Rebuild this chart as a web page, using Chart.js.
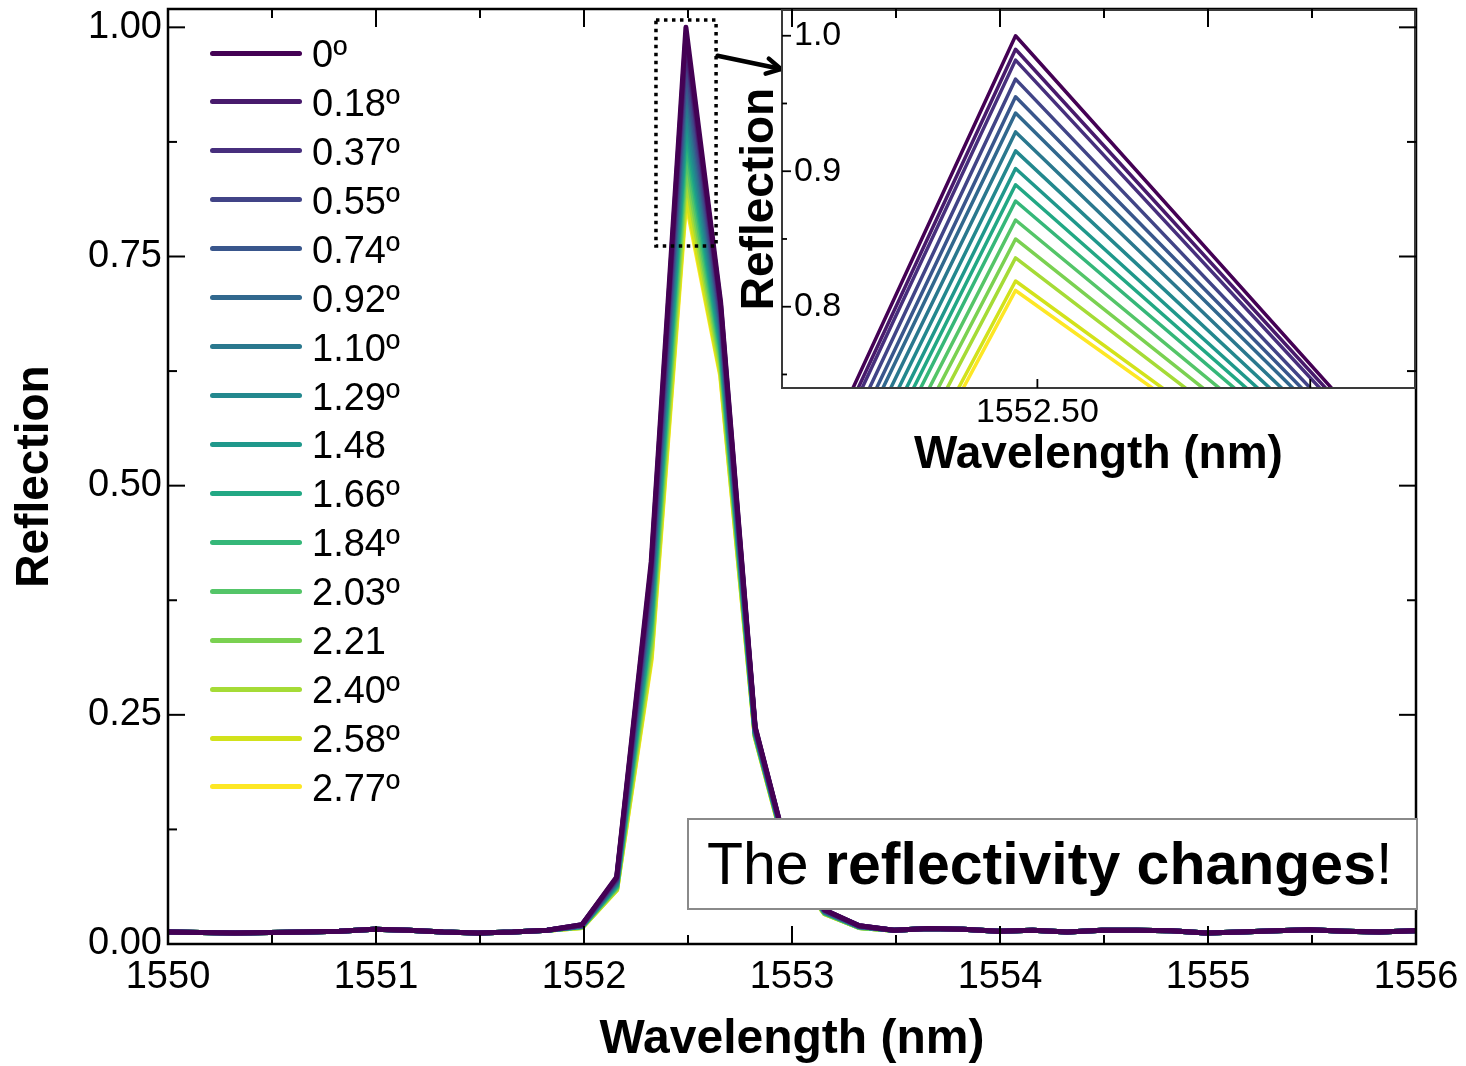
<!DOCTYPE html>
<html><head><meta charset="utf-8">
<script src="https://cdn.jsdelivr.net/npm/chart.js@4.4.1/dist/chart.umd.min.js"></script>
<style>
html,body{margin:0;padding:0;background:#fff;}
#wrap{position:relative;width:1466px;height:1066px;overflow:hidden;font-family:"Liberation Sans",Arial,sans-serif;}
#main{position:absolute;left:0;top:0;}
#inset{position:absolute;left:735px;top:0;}
.leg-line{position:absolute;height:5px;border-radius:2.5px;}
.leg-text{position:absolute;font-size:38px;line-height:38px;color:#000;white-space:nowrap;}
#note{position:absolute;left:687px;top:818px;width:709px;height:88px;border:2px solid #8a8a8a;background:#fff;
  font-size:59px;line-height:88px;color:#000;padding-left:18px;box-sizing:content-box;white-space:nowrap;}
</style></head>
<body><div id="wrap">
<canvas id="main" width="1466" height="1066"></canvas>
<canvas id="inset" width="731" height="490"></canvas>
<div id="legend"></div>
<div id="note">The <b>reflectivity changes</b>!</div>
</div>
<script>
// ---------------- data ----------------
const wavelengths = [1549.99,1550.157,1550.323,1550.49,1550.657,1550.823,1550.99,1551.157,1551.323,1551.49,
  1551.657,1551.823,1551.99,1552.157,1552.323,1552.49,1552.657,1552.823,1552.99,1553.157,
  1553.323,1553.49,1553.657,1553.823,1553.99,1554.157,1554.323,1554.49,1554.657,1554.823,
  1554.99,1555.157,1555.323,1555.49,1555.657,1555.823,1555.99,1556.157];
const angleLabels = ['0º','0.18º','0.37º','0.55º','0.74º','0.92º','1.10º','1.29º','1.48','1.66º','1.84º','2.03º','2.21','2.40º','2.58º','2.77º'];
const seriesColors = ['#440154','#481a6c','#472f7d','#414487','#39568c','#31688e','#2a788e','#23888e',
  '#1f988b','#22a884','#35b779','#54c568','#7ad151','#a5db36','#d2e21b','#fde725'];
// off-resonance baseline (all angles overlap there)
const baselineLeft  = [0.013,0.0125,0.012,0.0125,0.013,0.014,0.016,0.015,0.013,0.012,0.013,0.015];
const baselineRight = [0.015,0.017,0.016,0.014,0.015,0.013,0.015,0.015,0.0145,0.012,0.013,0.0145,0.0155,0.014,0.013,0.0145,0.0145];
// resonance window 1551.99 ... 1553.323 nm, one array per angle
const peak_0_00 = [0.021,0.073,0.417,1.000,0.700,0.237,0.090,0.037,0.020];
const peak_0_18 = [0.021,0.072,0.411,0.990,0.696,0.236,0.090,0.037,0.020];
const peak_0_37 = [0.021,0.071,0.407,0.982,0.692,0.235,0.089,0.037,0.020];
const peak_0_55 = [0.020,0.070,0.399,0.968,0.686,0.235,0.089,0.036,0.020];
const peak_0_74 = [0.020,0.069,0.391,0.955,0.681,0.234,0.088,0.036,0.019];
const peak_0_92 = [0.020,0.068,0.385,0.943,0.676,0.233,0.088,0.036,0.019];
const peak_1_10 = [0.020,0.067,0.377,0.929,0.670,0.232,0.088,0.035,0.019];
const peak_1_29 = [0.020,0.066,0.369,0.915,0.664,0.231,0.087,0.035,0.019];
const peak_1_48 = [0.019,0.065,0.361,0.902,0.658,0.230,0.087,0.035,0.019];
const peak_1_66 = [0.019,0.064,0.354,0.890,0.653,0.230,0.086,0.035,0.019];
const peak_1_84 = [0.019,0.063,0.348,0.878,0.648,0.229,0.086,0.034,0.019];
const peak_2_03 = [0.019,0.062,0.340,0.864,0.642,0.228,0.086,0.034,0.018];
const peak_2_21 = [0.019,0.061,0.332,0.850,0.636,0.228,0.085,0.034,0.018];
const peak_2_40 = [0.018,0.060,0.324,0.836,0.630,0.227,0.085,0.033,0.018];
const peak_2_58 = [0.018,0.059,0.314,0.819,0.623,0.226,0.084,0.033,0.018];
const peak_2_77 = [0.018,0.059,0.310,0.812,0.620,0.226,0.084,0.033,0.018];
const peakWindows = [peak_0_00,peak_0_18,peak_0_37,peak_0_55,peak_0_74,peak_0_92,peak_1_10,peak_1_29,
  peak_1_48,peak_1_66,peak_1_84,peak_2_03,peak_2_21,peak_2_40,peak_2_58,peak_2_77];

// tick values
const mainXMajor = [1550,1551,1552,1553,1554,1555,1556];
const mainXMinor = [1550.5,1551.5,1552.5,1553.5,1554.5,1555.5];
const mainYMajor = [0,0.25,0.5,0.75,1.0];
const mainYMinor = [0.125,0.375,0.625,0.875];
const insetXMajor = [1552.5];
const insetXMinor = [1552.625];
const insetYMajor = [0.8,0.9,1.0];
const insetYMinor = [0.75,0.85,0.95];
// zoom window (dotted box) and arrow, in data units
const zoomBox = {x0:1552.346, x1:1552.635, y0:0.7614, y1:1.008};
const arrowFrom = {x:1552.642, y:0.969};
const arrowTo = {x:1552.947, y:0.9545};

const FONT = '"Liberation Sans", Arial, sans-serif';

function seriesData(k){
  const vals = [...baselineLeft, ...peakWindows[k], ...baselineRight];
  return wavelengths.map((w,i)=>({x:w,y:vals[i]}));
}
function makeDatasets(width){
  return angleLabels.map((lab,k)=>({label:lab,data:seriesData(k),borderColor:seriesColors[k],
    backgroundColor:seriesColors[k],borderWidth:width,pointRadius:0,tension:0,fill:false,
    borderJoinStyle:'round',borderCapStyle:'round'}));
}
function noPadX(s,h){ s.height=h; s.paddingLeft=0; s.paddingRight=0; s.paddingTop=0; s.paddingBottom=0; }
function noPadY(s,w){ s.width=w; s.paddingLeft=0; s.paddingRight=0; s.paddingTop=0; s.paddingBottom=0; }

// ---------------- main chart ----------------
const framePlugin = {
  id:'frame',
  afterDatasetsDraw(chart){
    const {ctx, chartArea:a, scales:{x,y}} = chart;
    ctx.save();
    ctx.strokeStyle='#000'; ctx.lineWidth=2.5; ctx.lineCap='butt';
    ctx.strokeRect(a.left, a.top, a.right-a.left, a.bottom-a.top);
    ctx.lineWidth=2;
    const tick=(x1,y1,x2,y2)=>{ctx.beginPath();ctx.moveTo(x1,y1);ctx.lineTo(x2,y2);ctx.stroke();};
    mainXMajor.forEach(v=>{const px=x.getPixelForValue(v); tick(px,a.bottom,px,a.bottom-18); tick(px,a.top,px,a.top+18);});
    mainXMinor.forEach(v=>{const px=x.getPixelForValue(v); tick(px,a.bottom,px,a.bottom-9); tick(px,a.top,px,a.top+9);});
    mainYMajor.forEach(v=>{const py=y.getPixelForValue(v); tick(a.left,py,a.left+17,py); tick(a.right,py,a.right-17,py);});
    mainYMinor.forEach(v=>{const py=y.getPixelForValue(v); tick(a.left,py,a.left+9,py); tick(a.right,py,a.right-9,py);});
    // dotted zoom box
    const bx0=x.getPixelForValue(zoomBox.x0), bx1=x.getPixelForValue(zoomBox.x1);
    const by0=y.getPixelForValue(zoomBox.y1), by1=y.getPixelForValue(zoomBox.y0);
    ctx.setLineDash([3.5,4.5]); ctx.lineWidth=3.5;
    ctx.strokeRect(bx0,by0,bx1-bx0,by1-by0);
    ctx.setLineDash([]);
    // arrow
    const ax0=x.getPixelForValue(arrowFrom.x), ay0=y.getPixelForValue(arrowFrom.y);
    const ax1=x.getPixelForValue(arrowTo.x), ay1=y.getPixelForValue(arrowTo.y);
    ctx.lineWidth=4.5; ctx.lineCap='round';
    tick(ax0,ay0,ax1,ay1);
    const ang=Math.atan2(ay1-ay0,ax1-ax0), hl=16;
    ctx.beginPath();
    ctx.moveTo(ax1-hl*Math.cos(ang-0.5),ay1-hl*Math.sin(ang-0.5));
    ctx.lineTo(ax1,ay1);
    ctx.lineTo(ax1-hl*Math.cos(ang+0.5),ay1-hl*Math.sin(ang+0.5));
    ctx.stroke();
    ctx.restore();
  }
};

const mainChart = new Chart(document.getElementById('main'), {
  type:'line',
  data:{datasets:makeDatasets(5)},
  options:{
    responsive:false, animation:false, devicePixelRatio:1,
    layout:{padding:{top:9,right:50,left:0,bottom:0}},
    plugins:{legend:{display:false},tooltip:{enabled:false}},
    scales:{
      x:{type:'linear',min:1550,max:1556,
        afterBuildTicks:s=>{s.ticks=mainXMajor.map(v=>({value:v}));},
        afterFit:s=>noPadX(s,122),
        grid:{display:false,drawTicks:false}, border:{display:false},
        ticks:{padding:11,color:'#000',font:{size:38,family:FONT},maxRotation:0,autoSkip:false,callback:v=>String(v)},
        title:{display:true,text:'Wavelength (nm)',color:'#000',font:{size:48,weight:'bold',family:FONT,lineHeight:1},padding:{top:0,bottom:2}}
      },
      y:{type:'linear',min:0,max:1.02,
        afterBuildTicks:s=>{s.ticks=mainYMajor.map(v=>({value:v}));},
        afterFit:s=>noPadY(s,168),
        grid:{display:false,drawTicks:false}, border:{display:false},
        ticks:{padding:6,color:'#000',font:{size:38,family:FONT},callback:v=>Number(v).toFixed(2)},
        title:{display:true,text:'Reflection',color:'#000',font:{size:46,weight:'bold',family:FONT,lineHeight:1},padding:{top:12,bottom:0}}
      }
    }
  },
  plugins:[framePlugin]
});

// ---------------- inset ----------------
const INSET_LEFT = 735, INSET_TOP = 0;
const insetPlugin = {
  id:'insetFrame',
  beforeDraw(chart){
    const {ctx, chartArea:a} = chart;
    ctx.save(); ctx.fillStyle='#fff'; ctx.fillRect(a.left,a.top,a.right-a.left,a.bottom-a.top); ctx.restore();
  },
  afterDatasetsDraw(chart){
    const {ctx, chartArea:a, scales:{x,y}} = chart;
    ctx.save();
    const tick=(x1,y1,x2,y2)=>{ctx.beginPath();ctx.moveTo(x1,y1);ctx.lineTo(x2,y2);ctx.stroke();};
    ctx.strokeStyle='#3a3a3a'; ctx.lineWidth=2;
    ctx.strokeRect(a.left,a.top,a.right-a.left,a.bottom-a.top);
    ctx.strokeStyle='#000'; ctx.lineWidth=1.8;
    insetYMajor.forEach(v=>{const py=y.getPixelForValue(v); tick(a.left,py,a.left+9,py);});
    insetYMinor.forEach(v=>{const py=y.getPixelForValue(v); tick(a.left,py,a.left+5,py);});
    insetXMajor.forEach(v=>{const px=x.getPixelForValue(v); tick(px,a.bottom,px,a.bottom-9);});
    insetXMinor.forEach(v=>{const px=x.getPixelForValue(v); tick(px,a.bottom,px,a.bottom-9);});
    // main chart's mirrored top/right ticks remain visible over the inset
    const m = mainChart, ma = m.chartArea, mx = m.scales.x, my = m.scales.y;
    ctx.lineWidth=2;
    const rx = ma.right-INSET_LEFT, ty = ma.top-INSET_TOP;
    mainYMajor.forEach(v=>{const py=my.getPixelForValue(v)-INSET_TOP; if(py>a.top&&py<a.bottom) tick(rx,py,rx-17,py);});
    mainYMinor.forEach(v=>{const py=my.getPixelForValue(v)-INSET_TOP; if(py>a.top&&py<a.bottom) tick(rx,py,rx-9,py);});
    mainXMajor.forEach(v=>{const px=mx.getPixelForValue(v)-INSET_LEFT; if(px>a.left&&px<a.right) tick(px,ty,px,ty+18);});
    mainXMinor.forEach(v=>{const px=mx.getPixelForValue(v)-INSET_LEFT; if(px>a.left&&px<a.right) tick(px,ty,px,ty+9);});
    ctx.restore();
  }
};

new Chart(document.getElementById('inset'), {
  type:'line',
  data:{datasets:makeDatasets(3.5)},
  options:{
    responsive:false, animation:false, devicePixelRatio:1,
    layout:{padding:{top:10,right:51,left:0,bottom:0}},
    plugins:{legend:{display:false},tooltip:{enabled:false}},
    scales:{
      x:{type:'linear',min:1552.383,max:1552.673,
        afterBuildTicks:s=>{s.ticks=insetXMajor.map(v=>({value:v}));},
        afterFit:s=>noPadX(s,102),
        grid:{display:false,drawTicks:false}, border:{display:false},
        ticks:{padding:4,color:'#000',font:{size:34,family:FONT},maxRotation:0,autoSkip:false,callback:v=>Number(v).toFixed(2)},
        title:{display:true,text:'Wavelength (nm)',color:'#000',font:{size:46,weight:'bold',family:FONT,lineHeight:1},padding:{top:0,bottom:12}}
      },
      y:{type:'linear',min:0.74,max:1.019,
        afterBuildTicks:s=>{s.ticks=insetYMajor.map(v=>({value:v}));},
        afterFit:s=>noPadY(s,47),
        grid:{display:false,drawTicks:false}, border:{display:false},
        ticks:{mirror:true,padding:12,color:'#000',font:{size:34,family:FONT},callback:v=>Number(v).toFixed(1)},
        title:{display:true,text:'Reflection',color:'#000',font:{size:46,weight:'bold',family:FONT,lineHeight:1},padding:{top:2,bottom:0}}
      }
    }
  },
  plugins:[insetPlugin]
});

// ---------------- legend (HTML) ----------------
const legendBox = document.getElementById('legend');
const LEG_X = 210, LEG_LINE_W = 92, LEG_TEXT_X = 312, LEG_Y0 = 53, LEG_DY = 48.93;
angleLabels.forEach((lab,k)=>{
  const cy = LEG_Y0 + k*LEG_DY;
  const ln = document.createElement('div');
  ln.className='leg-line';
  ln.style.left=LEG_X+'px'; ln.style.top=(cy-2.5)+'px'; ln.style.width=LEG_LINE_W+'px';
  ln.style.background=seriesColors[k];
  legendBox.appendChild(ln);
  const tx = document.createElement('div');
  tx.className='leg-text';
  tx.style.left=LEG_TEXT_X+'px'; tx.style.top=(cy-18)+'px';
  tx.textContent=lab;
  legendBox.appendChild(tx);
});
</script>
</body></html>
